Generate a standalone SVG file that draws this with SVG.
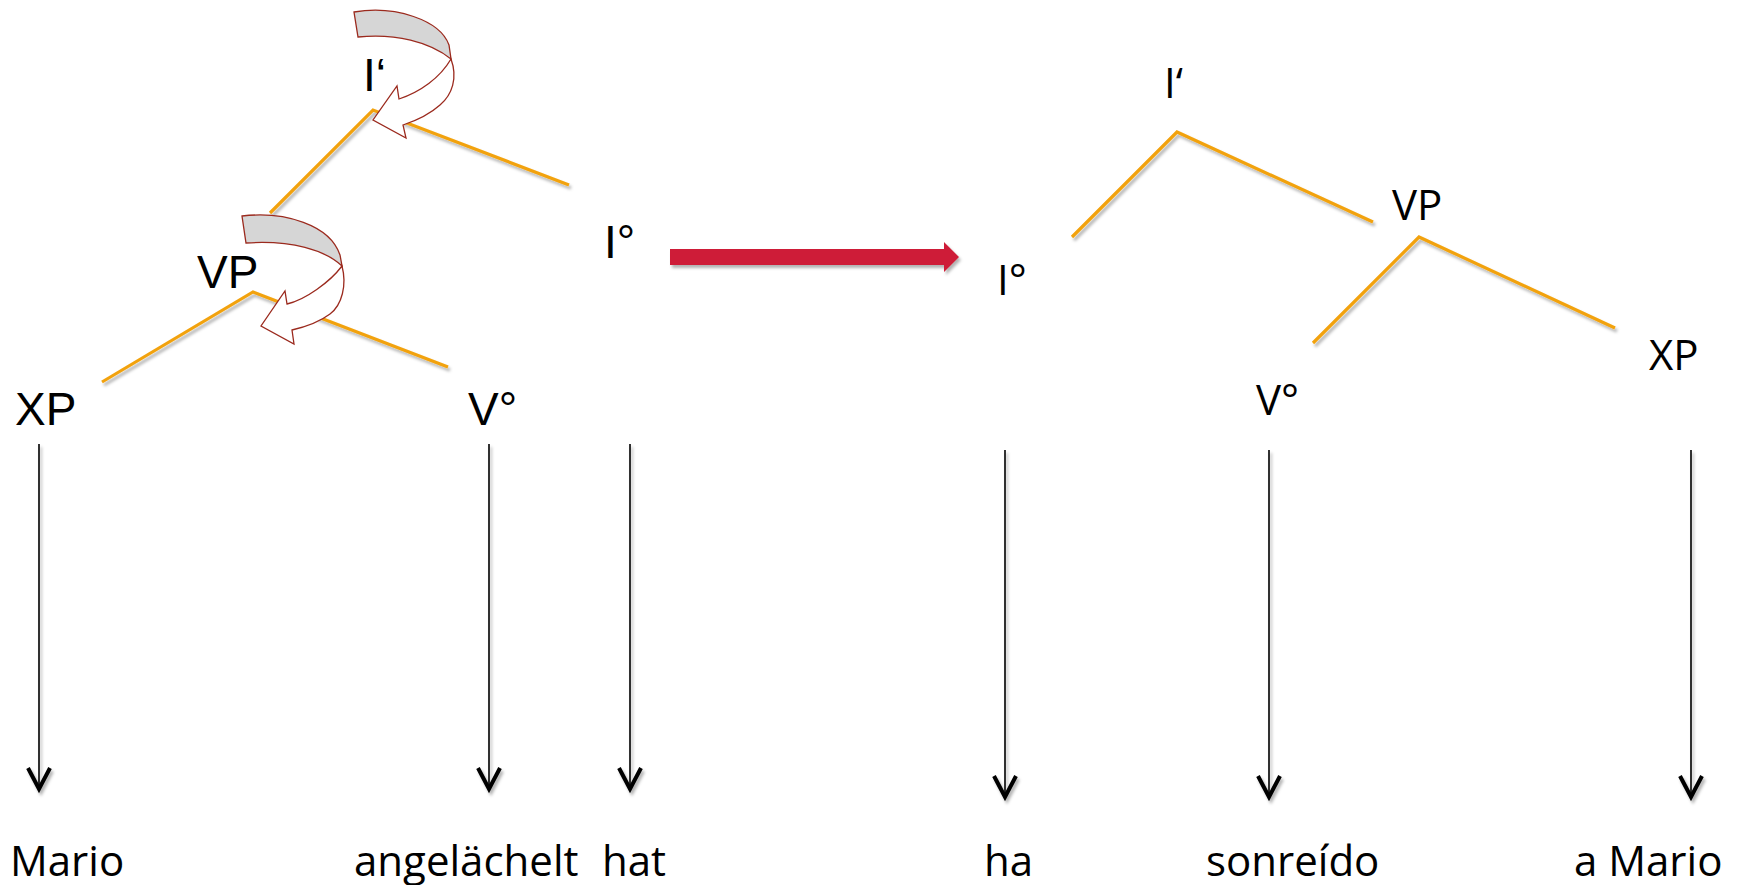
<svg xmlns="http://www.w3.org/2000/svg" width="1742" height="885" viewBox="0 0 1742 885">
  <style>
    .lbl { font-family: "Liberation Sans", Arial, sans-serif; font-size: 46px; fill: #000; }
    .lblr { font-family: "Open Sans", "Liberation Sans", sans-serif; font-size: 42px; fill: #000; }
    .word { font-family: "Open Sans", "Liberation Sans", sans-serif; font-size: 42px; fill: #000; }
    .branch { fill: none; stroke: #F2A20C; stroke-width: 3.2; stroke-linecap: butt; stroke-linejoin: miter; }
    .proj { fill: none; stroke: #000; stroke-width: 1.6; }
    .head { fill: none; stroke: #000; stroke-width: 4; stroke-linejoin: miter; stroke-linecap: butt; }
    .curl-back { fill: #D6D6D6; stroke: #9B2A1E; stroke-width: 1.3; stroke-linejoin: miter; }
    .curl-front { fill: #FFFFFF; stroke: #9B2A1E; stroke-width: 1.3; stroke-linejoin: miter; }
  </style>
  <defs>
    <filter id="shadow" x="-20%" y="-20%" width="140%" height="140%">
      <feDropShadow dx="2" dy="3" stdDeviation="1.8" flood-color="#000" flood-opacity="0.3"/>
    </filter>
  </defs>
  <rect width="1742" height="885" fill="#FFFFFF"/>

  <g id="connectors">
    <g filter="url(#shadow)">
      <!-- left tree -->
      <polyline class="branch" points="270,213 373,110 569,185"/>
      <polyline class="branch" points="102,382 253,292 448,367"/>
      <!-- right tree -->
      <polyline class="branch" points="1072,237 1177,132 1373,222"/>
      <polyline class="branch" points="1313,343 1419,237 1615,328"/>
    </g>
    <g filter="url(#shadow)">
      <line class="proj" x1="39" y1="444" x2="39" y2="789"/>
      <polyline class="head" points="28,768 39,789 50,768"/>
      <line class="proj" x1="489" y1="444" x2="489" y2="789"/>
      <polyline class="head" points="478,768 489,789 500,768"/>
      <line class="proj" x1="630" y1="444" x2="630" y2="789"/>
      <polyline class="head" points="619,768 630,789 641,768"/>
      <line class="proj" x1="1005" y1="450" x2="1005" y2="797"/>
      <polyline class="head" points="994,776 1005,797 1016,776"/>
      <line class="proj" x1="1269" y1="450" x2="1269" y2="797"/>
      <polyline class="head" points="1258,776 1269,797 1280,776"/>
      <line class="proj" x1="1691" y1="450" x2="1691" y2="797"/>
      <polyline class="head" points="1680,776 1691,797 1702,776"/>
    </g>
    <!-- red transformation arrow -->
    <polygon filter="url(#shadow)" fill="#CE1F38" points="670,249 944,249 944,242 959,257 944,272 944,265 670,265"/>
    <!-- curved movement arrows -->
    <g id="curl-top">
      <path class="curl-front" d="M451,59 C458,78 452,95 440,105 C430,114 418,120 403,125 L406,138 L373,120 L397,86 L399,99 C420,92 440,78 451,59 Z"/>
      <path class="curl-back" d="M354,12 C395,5 440,20 449,45 L451,59 C430,42 395,33 358,37 Z"/>
    </g>
    <g id="curl-vp">
      <path class="curl-front" d="M342,266 C347,285 342,305 330,314 C318,323 305,327 292,330 L294,344 L261,326 L285,291 L287,304 C305,300 330,282 342,266 Z"/>
      <path class="curl-back" d="M242,216 C285,211 330,225 340,255 L342,266 C325,250 292,240 246,243 Z"/>
    </g>
  </g>

  <!-- left tree nodes -->
  <g id="node-ibar-left"><text class="lbl" x="363" y="91">I‘</text></g>
  <g id="node-vp-left"><text class="lbl" x="197" y="288">VP</text></g>
  <g id="node-xp-left"><text class="lbl" x="15" y="425">XP</text></g>
  <g id="node-v-left"><text class="lbl" x="468" y="425">V°</text></g>
  <g id="node-i-left"><text class="lbl" x="604" y="258">I°</text></g>

  <!-- right tree nodes -->
  <g id="node-ibar-right"><text class="lblr" x="1164" y="98">I‘</text></g>
  <g id="node-i-right"><text class="lblr" x="997" y="295">I°</text></g>
  <g id="node-vp-right"><text class="lblr" x="1392" y="220">VP</text></g>
  <g id="node-v-right"><text class="lblr" x="1256" y="415">V°</text></g>
  <g id="node-xp-right"><text class="lblr" x="1649" y="370">XP</text></g>

  <!-- words -->
  <g id="word-mario"><text class="word" x="10" y="876">Mario</text></g>
  <g id="word-angelaechelt"><text class="word" x="354" y="876">angelächelt</text></g>
  <g id="word-hat"><text class="word" x="602" y="876">hat</text></g>
  <g id="word-ha"><text class="word" x="984" y="876">ha</text></g>
  <g id="word-sonreido"><text class="word" x="1206" y="876">sonreído</text></g>
  <g id="word-a-mario"><text class="word" x="1574" y="876">a Mario</text></g>
</svg>
